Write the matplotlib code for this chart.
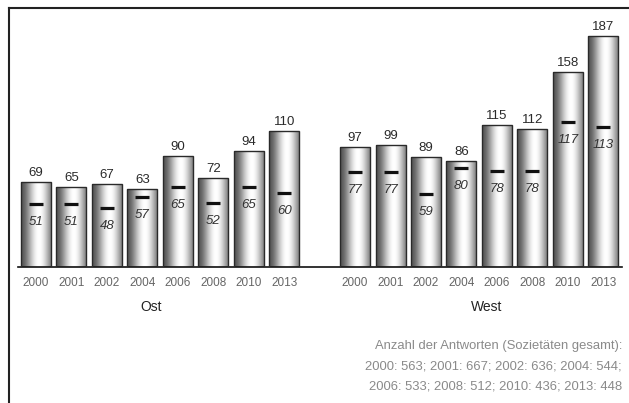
import numpy as np
import matplotlib
matplotlib.use('Agg')
from matplotlib import pyplot as plt
from matplotlib.lines import Line2D

# data

years = ['2000', '2001', '2002', '2004', '2006', '2008', '2010', '2013']
ost_total = [69, 65, 67, 63, 90, 72, 94, 110]
ost_mean = [51, 51, 48, 57, 65, 52, 65, 60]
west_total = [97, 99, 89, 86, 115, 112, 158, 187]
west_mean = [77, 77, 59, 80, 78, 78, 117, 113]
groups = ['Ost', 'West']
note = ['Anzahl der Antworten (Sozietäten gesamt):',
        '2000: 563; 2001: 667; 2002: 636; 2004: 544;',
        '2006: 533; 2008: 512; 2010: 436; 2013: 448']

plt.rcParams['font.family'] = ['Liberation Sans', 'DejaVu Sans']

fig = plt.figure(figsize = (6.29, 4.03), dpi = 100)
W, H = 629, 403
ax = fig.add_axes([18 / W, (H - 267) / H, 604 / W, 247 / H])
ax.set_xlim(-0.508, 16.53)
ax.set_ylim(0, 247 / 1.236)

# cylinder shading for bars
u = np.linspace(0, 1, 200)
c = np.clip(np.cos((u - 0.6) / 0.62 * np.pi / 2), 0, 1)
shade = 0.33 + 0.67 * c ** 2
shade = shade.reshape(1, -1)

bw = 0.846
pos_ost = np.arange(len(years))
pos_west = np.arange(len(years)) + len(years) + 1

def draw_group(pos, total, mean):
    for x, t, m in zip(pos, total, mean):
        rect = plt.Rectangle((x - bw / 2, 0), bw, t, facecolor = 'none',
                             edgecolor = '#2a2a2a', linewidth = 1.0, zorder = 3)
        ax.add_patch(rect)
        im = ax.imshow(shade, cmap = 'gray', vmin = 0, vmax = 1, aspect = 'auto',
                       extent = (x - bw / 2, x + bw / 2, 0, t), zorder = 2,
                       interpolation = 'bilinear')
        im.set_clip_path(rect)
        ax.annotate(str(t), (x, t), xytext = (0, 3), textcoords = 'offset pixels',
                    ha = 'center', va = 'bottom', fontsize = 9.5, color = '#2a2a2a')
        ax.plot([x], [m], marker = '_', markersize = 10, mew = 2.3, color = '#111111', zorder = 4)
        ax.annotate(str(m), (x, m), xytext = (0, -18), textcoords = 'offset pixels',
                    ha = 'center', va = 'center', fontsize = 9.5, style = 'italic',
                    color = '#333333', zorder = 5)

draw_group(pos_ost, ost_total, ost_mean)
draw_group(pos_west, west_total, west_mean)

ax.set_xticks(list(pos_ost) + list(pos_west))
ax.set_xticklabels(years + years, fontsize = 8.5, color = '#666666')
ax.tick_params(axis = 'x', length = 0, pad = 7)
ax.set_yticks([])
for s in ['top', 'right', 'left']:
    ax.spines[s].set_visible(False)
ax.spines['bottom'].set_color('#111111')
ax.spines['bottom'].set_linewidth(1.2)

# group labels
ax.text(3.26, -40 / 1.236, groups[0], ha = 'center', va = 'center', fontsize = 10, color = '#222222')
ax.text(12.72, -40 / 1.236, groups[1], ha = 'center', va = 'center', fontsize = 10, color = '#222222')

# note
for i, line in enumerate(note):
    fig.text(622 / W, 1 - (346.5 + 20 * i) / H, line, ha = 'right', va = 'center',
             fontsize = 9.4, color = '#8a8a8a')

# frame
fig.add_artist(Line2D([9 / W, 1], [1 - 7.5 / H] * 2, color = '#222222', lw = 1.5))
fig.add_artist(Line2D([9 / W] * 2, [0, 1 - 7.5 / H], color = '#222222', lw = 1.5))

plt.savefig('out.png', dpi = 100)
